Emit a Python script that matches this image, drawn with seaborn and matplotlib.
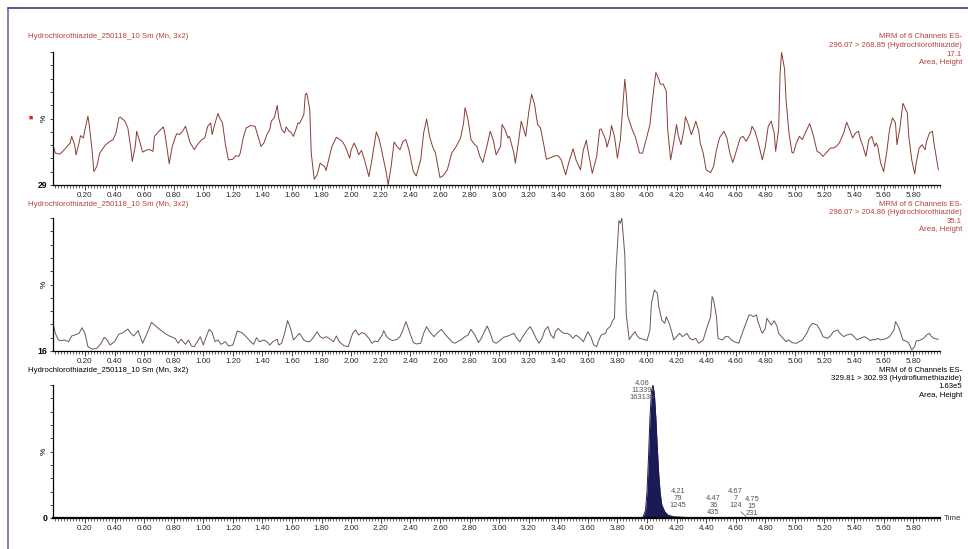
"""
Chromatogrammes MRM - Hydrochlorothiazide / Hydroflumethiazide
"""

import matplotlib
matplotlib.use('Agg')
import matplotlib.pyplot as plt
import seaborn as sns
from matplotlib.ticker import MultipleLocator, FixedLocator
from matplotlib.lines import Line2D

# Trace 1 : 296.07 > 268.85 (temps en min, intensité en %)
t1 = [-0.01, 0.00, 0.03, 0.05, 0.08, 0.10, 0.11, 0.13, 0.14, 0.16, 0.17, 0.19, 0.20, 0.22, 0.23,
      0.25, 0.26, 0.28, 0.30, 0.34, 0.37, 0.39, 0.41, 0.43, 0.44, 0.47, 0.49, 0.51, 0.52, 0.54,
      0.55, 0.57, 0.59, 0.62, 0.64, 0.66, 0.67, 0.70, 0.73, 0.74, 0.76, 0.77, 0.79, 0.82, 0.84,
      0.86, 0.88, 0.89, 0.91, 0.94, 0.96, 0.99, 1.01, 1.03, 1.05, 1.06, 1.08, 1.10, 1.11, 1.13,
      1.15, 1.17, 1.20, 1.22, 1.24, 1.25, 1.27, 1.29, 1.32, 1.35, 1.37, 1.39, 1.41, 1.43, 1.45,
      1.46, 1.48, 1.50, 1.51, 1.53, 1.55, 1.56, 1.58, 1.59, 1.61, 1.63, 1.64, 1.65, 1.67, 1.68,
      1.69, 1.70, 1.72, 1.73, 1.75, 1.77, 1.79, 1.82, 1.83, 1.87, 1.90, 1.94, 1.96, 1.99, 2.00,
      2.02, 2.04, 2.05, 2.07, 2.09, 2.12, 2.14, 2.17, 2.19, 2.21, 2.24, 2.25, 2.27, 2.29, 2.31,
      2.33, 2.35, 2.37, 2.39, 2.42, 2.44, 2.47, 2.49, 2.51, 2.53, 2.55, 2.57, 2.60, 2.62, 2.65,
      2.68, 2.71, 2.74, 2.76, 2.77, 2.79, 2.81, 2.83, 2.85, 2.87, 2.89, 2.92, 2.94, 2.96, 2.98,
      3.01, 3.02, 3.04, 3.06, 3.07, 3.10, 3.11, 3.13, 3.15, 3.16, 3.18, 3.20, 3.22, 3.24, 3.26,
      3.28, 3.30, 3.32, 3.34, 3.38, 3.40, 3.42, 3.45, 3.47, 3.50, 3.52, 3.55, 3.57, 3.59, 3.60,
      3.63, 3.66, 3.68, 3.69, 3.72, 3.73, 3.75, 3.76, 3.78, 3.80, 3.82, 3.84, 3.85, 3.86, 3.87,
      3.90, 3.92, 3.95, 3.97, 4.00, 4.02, 4.04, 4.06, 4.08, 4.09, 4.11, 4.13, 4.14, 4.16, 4.18,
      4.20, 4.21, 4.23, 4.25, 4.26, 4.28, 4.30, 4.32, 4.33, 4.35, 4.36, 4.38, 4.40, 4.43, 4.45,
      4.47, 4.49, 4.52, 4.54, 4.56, 4.58, 4.61, 4.63, 4.65, 4.67, 4.70, 4.71, 4.73, 4.75, 4.78,
      4.80, 4.82, 4.84, 4.86, 4.87, 4.89, 4.90, 4.91, 4.93, 4.94, 4.96, 4.98, 4.99, 5.01, 5.03,
      5.05, 5.07, 5.10, 5.12, 5.15, 5.17, 5.19, 5.21, 5.24, 5.26, 5.28, 5.30, 5.33, 5.35, 5.37,
      5.39, 5.41, 5.43, 5.44, 5.46, 5.48, 5.50, 5.52, 5.54, 5.55, 5.56, 5.58, 5.60, 5.62, 5.64,
      5.66, 5.68, 5.69, 5.71, 5.73, 5.76, 5.77, 5.79, 5.81, 5.82, 5.84, 5.86, 5.88, 5.89, 5.91,
      5.93, 5.94, 5.97]
i1 = [27.8, 24.0, 23.2, 25.3, 29.0, 31.6, 36.6, 30.3, 22.7, 31.6, 37.1, 35.4, 41.7, 51.8, 44.2,
      24.0, 10.1, 13.9, 24.0, 30.3, 32.8, 34.1, 39.1, 50.5, 51.0, 48.0, 42.9, 27.8, 17.7, 29.0,
      40.4, 32.8, 24.7, 26.5, 26.5, 25.3, 36.6, 40.4, 43.7, 39.1, 24.0, 15.9, 29.0, 38.6, 37.9,
      40.4, 44.2, 40.4, 32.1, 26.5, 30.3, 34.1, 35.4, 44.2, 46.7, 37.9, 46.7, 53.8, 50.5, 46.7,
      30.3, 18.9, 19.4, 22.0, 21.5, 24.0, 35.4, 42.9, 44.7, 44.2, 36.6, 29.0, 31.6, 37.9, 41.7,
      48.0, 50.5, 59.8, 50.5, 41.7, 39.1, 43.7, 40.4, 39.9, 36.6, 42.9, 46.7, 46.2, 50.5, 53.0,
      68.2, 68.9, 56.8, 24.0, 4.3, 7.6, 16.4, 13.9, 10.9, 29.0, 35.9, 32.8, 29.0, 20.2, 26.5,
      31.6, 26.5, 22.7, 26.0, 18.9, 6.3, 18.9, 39.9, 34.1, 24.0, 7.6, 0.0, 13.9, 32.3, 29.0,
      26.5, 32.8, 34.1, 26.5, 10.1, 6.8, 18.9, 39.1, 49.7, 36.6, 29.0, 24.0, 5.6, 6.8, 11.4,
      24.0, 29.0, 35.4, 46.7, 58.1, 49.2, 34.1, 31.1, 29.0, 21.5, 16.9, 30.3, 40.4, 34.1, 22.7,
      29.0, 45.5, 41.7, 35.4, 36.6, 24.0, 16.4, 31.6, 48.0, 44.2, 36.6, 54.3, 68.2, 60.6, 45.5,
      42.9, 31.6, 19.4, 20.2, 22.0, 22.0, 18.9, 7.6, 16.4, 27.3, 18.9, 11.4, 26.5, 33.6, 26.5,
      8.8, 21.5, 41.7, 42.2, 34.1, 28.5, 36.6, 44.7, 36.6, 20.2, 34.1, 64.4, 79.5, 68.2, 51.8,
      41.7, 36.6, 24.0, 24.0, 36.6, 45.5, 66.9, 84.6, 79.5, 75.8, 75.8, 70.7, 41.7, 18.9, 31.6,
      45.5, 37.9, 30.3, 41.7, 51.3, 45.5, 37.9, 44.2, 48.0, 40.4, 31.6, 24.0, 11.4, 9.3, 13.9,
      26.5, 35.4, 40.4, 35.4, 24.0, 16.9, 27.8, 35.4, 36.6, 32.8, 39.1, 44.2, 40.4, 32.8, 18.9,
      29.0, 44.2, 48.0, 39.1, 25.3, 41.7, 84.6, 99.7, 87.1, 64.4, 39.1, 24.5, 24.0, 31.6, 36.6,
      34.1, 39.1, 46.2, 39.1, 25.3, 24.0, 21.5, 24.0, 27.8, 27.8, 29.0, 31.6, 39.1, 47.2, 41.7,
      35.4, 39.1, 40.4, 35.4, 29.0, 21.5, 34.1, 36.6, 29.0, 31.6, 29.0, 16.4, 10.1, 24.0, 41.7,
      50.5, 46.7, 30.3, 42.9, 61.4, 54.3, 36.6, 18.9, 8.3, 16.4, 27.8, 30.3, 26.5, 32.8, 39.1,
      40.4, 31.6, 11.4]

# Trace 2 : 296.07 > 204.86
t2 = [-0.01, 0.00, 0.02, 0.04, 0.06, 0.09, 0.11, 0.13, 0.16, 0.18, 0.20, 0.22, 0.25, 0.28, 0.31,
      0.33, 0.35, 0.37, 0.40, 0.43, 0.45, 0.49, 0.51, 0.53, 0.56, 0.57, 0.59, 0.62, 0.65, 0.67,
      0.71, 0.74, 0.77, 0.81, 0.83, 0.85, 0.88, 0.90, 0.92, 0.94, 0.98, 1.00, 1.02, 1.04, 1.06,
      1.08, 1.10, 1.12, 1.15, 1.17, 1.20, 1.23, 1.26, 1.29, 1.32, 1.34, 1.36, 1.38, 1.41, 1.43,
      1.45, 1.47, 1.50, 1.51, 1.53, 1.55, 1.57, 1.59, 1.61, 1.63, 1.65, 1.68, 1.70, 1.72, 1.74,
      1.77, 1.79, 1.81, 1.83, 1.86, 1.88, 1.90, 1.92, 1.95, 1.98, 2.01, 2.03, 2.05, 2.07, 2.09,
      2.12, 2.14, 2.16, 2.18, 2.21, 2.22, 2.24, 2.26, 2.28, 2.31, 2.33, 2.35, 2.37, 2.39, 2.42,
      2.44, 2.47, 2.49, 2.51, 2.53, 2.56, 2.58, 2.61, 2.63, 2.66, 2.68, 2.70, 2.74, 2.77, 2.79,
      2.81, 2.84, 2.86, 2.88, 2.90, 2.92, 2.94, 2.96, 2.98, 3.01, 3.03, 3.06, 3.10, 3.12, 3.14,
      3.16, 3.19, 3.21, 3.23, 3.25, 3.27, 3.29, 3.31, 3.33, 3.35, 3.37, 3.38, 3.40, 3.42, 3.44,
      3.46, 3.48, 3.50, 3.52, 3.55, 3.57, 3.59, 3.60, 3.62, 3.64, 3.66, 3.67, 3.69, 3.72, 3.73,
      3.75, 3.77, 3.78, 3.79, 3.81, 3.82, 3.83, 3.85, 3.86, 3.88, 3.90, 3.92, 3.93, 3.95, 3.98,
      4.00, 4.02, 4.03, 4.05, 4.07, 4.08, 4.10, 4.12, 4.13, 4.15, 4.17, 4.18, 4.20, 4.22, 4.24,
      4.27, 4.29, 4.31, 4.33, 4.35, 4.38, 4.40, 4.43, 4.44, 4.45, 4.47, 4.48, 4.51, 4.53, 4.55,
      4.57, 4.59, 4.62, 4.64, 4.66, 4.69, 4.70, 4.72, 4.74, 4.75, 4.77, 4.78, 4.80, 4.81, 4.83,
      4.84, 4.86, 4.88, 4.89, 4.92, 4.94, 4.96, 4.98, 5.01, 5.05, 5.08, 5.10, 5.12, 5.15, 5.17,
      5.19, 5.22, 5.24, 5.26, 5.29, 5.30, 5.33, 5.35, 5.38, 5.40, 5.42, 5.44, 5.47, 5.49, 5.51,
      5.53, 5.54, 5.56, 5.58, 5.60, 5.62, 5.64, 5.67, 5.68, 5.70, 5.72, 5.73, 5.76, 5.77, 5.79,
      5.81, 5.82, 5.85, 5.87, 5.89, 5.91, 5.92, 5.94, 5.97]
i2 = [18.3, 13.3, 8.3, 7.8, 8.3, 7.0, 11.3, 12.0, 13.3, 17.5, 13.3, 3.3, 1.3, 2.0, 5.8,
      10.3, 8.3, 4.5, 7.0, 12.8, 13.3, 16.5, 13.3, 11.3, 15.3, 12.0, 5.8, 13.3, 21.6, 19.5,
      15.8, 13.3, 11.3, 9.5, 5.8, 8.8, 5.0, 8.3, 3.8, 3.3, 10.8, 4.5, 10.8, 16.3, 14.0,
      7.0, 8.3, 5.0, 7.0, 3.8, 4.5, 15.0, 13.8, 10.8, 7.0, 5.0, 10.0, 7.0, 8.3, 7.0,
      4.5, 7.0, 8.8, 4.5, 5.8, 13.3, 22.8, 17.0, 8.3, 10.8, 13.3, 8.3, 7.0, 7.0, 9.5,
      14.5, 10.8, 9.5, 10.8, 8.8, 7.0, 11.3, 7.0, 4.0, 3.3, 13.3, 15.8, 12.0, 13.8, 13.3,
      9.5, 5.8, 7.5, 7.0, 12.0, 15.3, 10.8, 8.8, 7.8, 8.8, 10.8, 15.8, 22.1, 15.8, 6.3,
      5.3, 5.8, 13.3, 18.3, 14.5, 10.8, 13.3, 16.3, 13.3, 9.5, 7.0, 5.8, 8.3, 10.8, 12.0,
      16.3, 11.3, 6.3, 9.5, 14.5, 18.8, 13.3, 7.0, 5.8, 8.3, 10.3, 11.3, 13.3, 9.5, 7.0,
      10.8, 15.8, 18.3, 14.5, 9.5, 5.8, 9.5, 15.8, 18.3, 12.0, 9.5, 14.5, 17.0, 14.5, 13.3,
      13.3, 12.0, 9.5, 12.0, 9.5, 7.0, 12.0, 14.5, 10.8, 4.5, 3.3, 7.0, 12.0, 13.3, 16.3,
      18.3, 23.3, 24.6, 60.0, 98.0, 96.0, 100.0, 72.0, 27.0, 8.5, 12.0, 14.5, 12.0, 9.5, 8.8,
      7.8, 15.8, 35.8, 45.9, 43.4, 33.3, 23.3, 20.8, 25.8, 20.8, 13.3, 8.3, 10.8, 13.3, 10.8,
      13.3, 9.5, 8.3, 9.5, 5.8, 8.3, 15.8, 25.8, 40.9, 38.3, 25.8, 9.5, 8.3, 10.8, 10.8,
      8.3, 7.0, 5.8, 12.0, 18.3, 27.1, 27.1, 25.8, 27.1, 22.1, 15.8, 13.3, 17.0, 24.6, 21.3,
      19.5, 22.8, 18.3, 13.3, 9.5, 7.0, 8.3, 6.3, 5.8, 8.3, 13.3, 18.3, 20.8, 19.5, 15.8,
      10.8, 9.5, 11.3, 14.5, 15.8, 13.8, 10.8, 12.0, 12.8, 10.8, 8.3, 9.5, 10.8, 9.5, 7.8,
      8.8, 8.3, 9.5, 8.3, 8.8, 9.5, 10.8, 15.8, 22.1, 18.3, 12.0, 8.3, 7.0, 5.8, 0.8,
      3.3, 7.5, 8.3, 9.5, 12.0, 13.3, 11.3, 9.5, 8.8]

# Trace 3 : 329.81 > 302.93 (Hydroflumethiazide)
t3 = [-0.01, 3.97, 3.99, 4.00, 4.01, 4.02, 4.03, 4.04, 4.05, 4.06, 4.07, 4.08, 4.09, 4.10,
      4.12, 4.14, 4.18, 4.27, 4.45, 4.65, 5.98]
i3 = [0.0, 0.0, 6.0, 20.0, 45.0, 75.0, 95.0, 100.0, 93.0, 75.0, 52.0, 32.0, 18.0, 10.0,
      5.0, 2.5, 1.2, 0.6, 0.3, 0.2, 0.0]

# Intégration des pics (trace 3)
peak_rt = ['4.06', '4.21', '4.47', '4.67', '4.75']
peak_height = [11339, 79, 36, 7, 15]
peak_area = [163139, 1245, 435, 124, 231]

# Textes des en-têtes
sample_name = 'Hydrochlorothiazide_250118_10 Sm (Mn, 3x2)'
channels = ['296.07 > 268.85 (Hydrochlorothiazide)',
            '296.07 > 204.86 (Hydrochlorothiazide)',
            '329.81 > 302.93 (Hydroflumethiazide)']
full_scale = ['17.1', '35.1', '1.63e5']
offsets = ['29', '16', '0']

W, H = 968, 549
RED = '#b8403a'


def px(x, y):
    """Coordonnées pixel -> coordonnées figure"""
    return x / W, 1 - y / H


def style_axis(ax, lw_bottom=0.9):
    ax.set_xlim(-0.018, 5.981)
    ax.set_ylim(0, 100)
    for s in ['top', 'right']:
        ax.spines[s].set_visible(False)
    ax.spines['left'].set_linewidth(0.9)
    ax.spines['bottom'].set_linewidth(lw_bottom)
    ax.spines['left'].set_color('black')
    ax.spines['bottom'].set_color('black')
    ax.xaxis.set_major_locator(FixedLocator([k * 0.2 for k in range(1, 30)]))
    ax.xaxis.set_minor_locator(MultipleLocator(0.02))
    ax.set_xticklabels([f'{k * 0.2:.2f}' for k in range(1, 30)])
    ax.yaxis.set_major_locator(MultipleLocator(10))
    ax.set_yticklabels([])
    ax.tick_params(axis='x', which='major', direction='out', length=3.5, width=0.6,
                   labelsize=5.8, pad=1.5, bottom=True)
    ax.tick_params(axis='x', which='minor', direction='out', length=1.8, width=0.5,
                   bottom=True)
    ax.tick_params(axis='y', which='major', direction='out', length=2.5, width=0.6,
                   left=True)
    ax.set_xlabel('')
    ax.set_ylabel('')
    ax.grid(False)


sns.set_style('white')
plt.rcParams['font.family'] = ['Liberation Sans', 'DejaVu Sans']

fig = plt.figure(figsize=(W / 100, H / 100), dpi=100)

tops = [52, 218, 385]
bottoms = [185, 351, 518.3]
axes = []
for top, bot in zip(tops, bottoms):
    l, b = px(52.7, bot)
    axes.append(fig.add_axes([l, b, (940 - 52.7) / W, (bot - top) / H]))

ax1, ax2, ax3 = axes

sns.lineplot(x=t1, y=i1, ax=ax1, color='#8a3c34', linewidth=0.7, sort=False)
sns.lineplot(x=t2, y=i2, ax=ax2, color='#6e5650', linewidth=0.7, sort=False)
sns.lineplot(x=t3, y=i3, ax=ax3, color='#1b1a55', linewidth=0.7, sort=False)
ax3.fill_between(t3, i3, 0, color='#1b1a55', linewidth=0)

style_axis(ax1)
style_axis(ax2)
style_axis(ax3, lw_bottom=1.6)

for ax, off in zip(axes, offsets):
    ax.text(-0.006, 0.0, off, transform=ax.transAxes, ha='right', va='center',
            fontsize=6.2, fontweight='bold', color='black')
    ax.text(-0.0098, 0.5, '%', transform=ax.transAxes, ha='center', va='center',
            rotation=90, fontsize=6, color='black')

# Marqueur rouge à gauche du premier panneau
fig.text(*px(31, 118), '\u25a0', color='#e02a1a', fontsize=5, ha='center', va='center')

# En-têtes
head_y = [37, 204, 370]
head_col = [RED, RED, 'black']
for hy, col, ch, fs in zip(head_y, head_col, channels, full_scale):
    fig.text(*px(28, hy), sample_name, color=col, fontsize=5.6, ha='left', va='center')
    lines = ['MRM of 6 Channels ES-', ch, fs, 'Area, Height']
    for k, txt in enumerate(lines):
        fig.text(*px(962, hy + k * 8.5), txt, color=col, fontsize=5.6,
                 ha='right', va='center')

# Étiquettes d'intégration
label_dx = [-0.095, 0.0, -0.02, -0.07, -0.04]
label_y = [104, 23, 17.5, 23, 17]
for rt, h, a, dx, ly in zip(peak_rt, peak_height, peak_area, label_dx, label_y):
    ax3.text(float(rt) + dx, ly, f'{rt}\n{h}\n{a}', ha='center', va='top',
             fontsize=5.4, color='#555555', linespacing=1.05, clip_on=False)

# Trait de rappel vers le pic à 4.67
rt_small = float(peak_rt[3])
ax3.plot([rt_small - 0.035, rt_small], [5, 1.2], color='#555555', linewidth=0.5)

ax3.text(1.004, 0.0, 'Time', transform=ax3.transAxes, ha='left', va='center',
         fontsize=5.8, color='#333333')

# Cadre
fig.add_artist(Line2D([8 / W, 8 / W], [0, 1 - 8 / H], color='#6b6ba8', linewidth=1.2))
fig.add_artist(Line2D([8 / W, 1], [1 - 8 / H, 1 - 8 / H], color='#3e3e7c', linewidth=1.2))

fig.savefig('out.png', dpi=100)
plt.close(fig)
